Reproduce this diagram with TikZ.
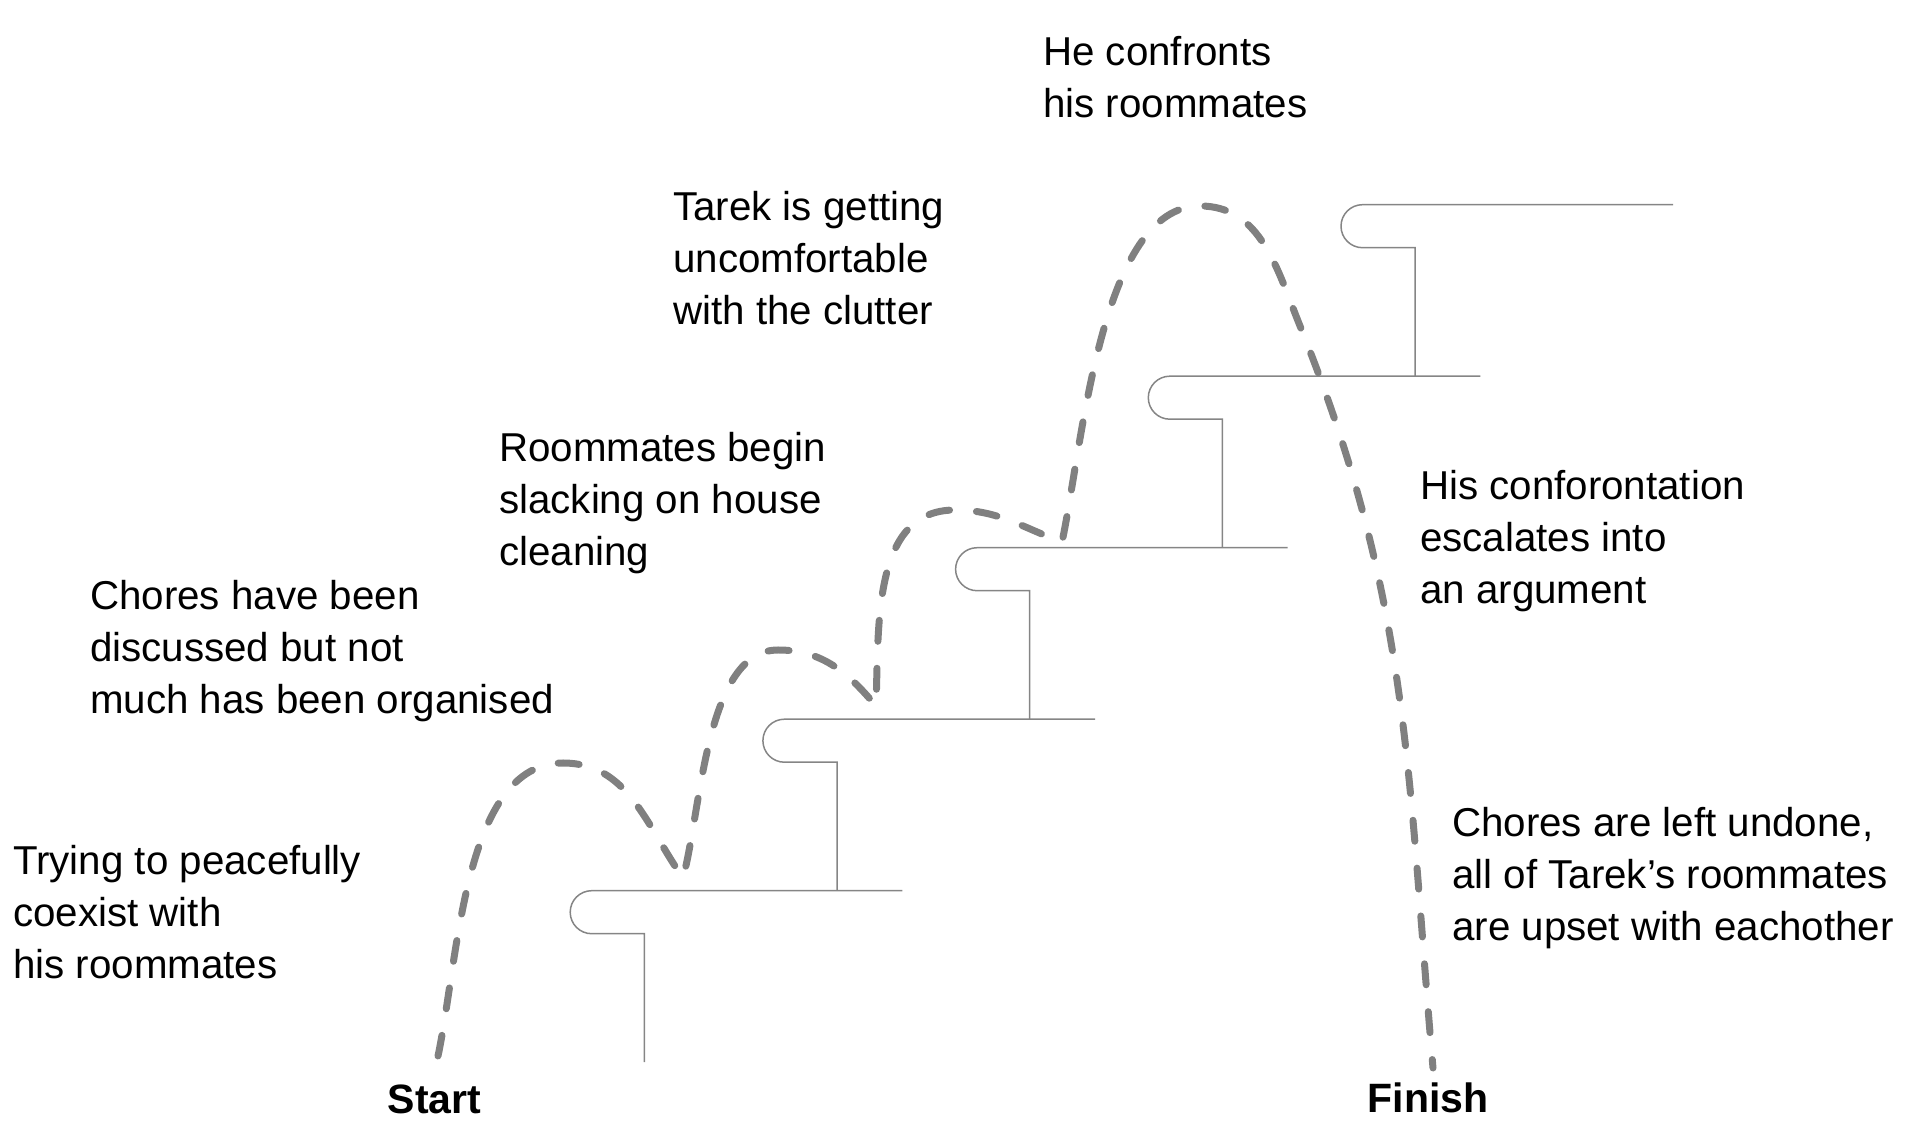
\documentclass[tikz,border=0pt]{standalone}
\usepackage{fontspec}
\setmainfont{Liberation Sans}
\definecolor{linegray}{HTML}{858585}
\definecolor{pathgray}{HTML}{808080}
\tikzset{
  storytext/.style={anchor=base west, align=left, inner sep=0pt, font=\fontsize{40.3}{52}\selectfont},
  endtext/.style={anchor=base, inner sep=0pt, font=\fontsize{41}{50}\selectfont\bfseries},
  stair/.style={draw=linegray, line width=1.5pt},
  route/.style={draw=pathgray, line width=7pt, line cap=round, dash pattern=on 21pt off 27pt},
}
\begin{document}
\begin{tikzpicture}[x=1pt,y=1pt]
  \useasboundingbox (0,0) rectangle (1906,1138);
  % the five stairs
  \foreach \i in {0,...,4} {
    \pgfmathsetmacro\sx{591.7+192.7*\i}
    \pgfmathsetmacro\sy{247.3+171.5*\i}
    \draw[stair] (\sx+310.6,\sy) -- (\sx,\sy)
      arc[start angle=90,end angle=270,radius=21.5]
      -- (\sx+52.6,\sy-43) -- (\sx+52.6,\sy-171.5);
  }
  % texts (placed at the baseline of their last line)
  \node[storytext] (trying) at (13,159) {Trying to peacefully\\coexist with\\his roommates};
  \node[storytext] (chores) at (90,424) {Chores have been\\discussed but not\\much has been organised};
  \node[storytext] (slacking) at (499,572) {Roommates begin\\slacking on house\\cleaning};
  \node[storytext] (clutter) at (673,813) {Tarek is getting\\uncomfortable\\with the clutter};
  \node[storytext] (confront) at (1043,1020) {He confronts\\his roommates};
  \node[storytext] (argument) at (1420,534) {His conforontation\\escalates into\\an argument};
  \node[storytext] (undone) at (1452,197) {Chores are left undone,\\all of Tarek’s roommates\\are upset with eachother};
  \node[endtext] (start) at (434.5,25) {Start};
  \node[endtext] (finish) at (1428,26) {Finish};
  % the route
  \coordinate (s0) at (438,82);
  \coordinate (p1) at (563,375);
  \coordinate (v1) at (683,260);
  \coordinate (p2) at (778,488);
  \coordinate (v2) at (876,432);
  \coordinate (p3) at (955,628);
  \coordinate (v3) at (1062,596);
  \coordinate (p4) at (1200,932);
  \coordinate (m4) at (1300,812);
  \coordinate (f0) at (1433,70);
  \draw[route] (s0) to[out=78,in=180,looseness=0.8] (p1)
    to[out=0,in=125] (v1)
    to[out=75,in=180,looseness=0.75] (p2)
    to[out=0,in=130] (v2)
    to[out=88,in=180] (p3)
    to[out=0,in=160] (v3)
    to[out=78,in=180,looseness=0.7] (p4)
    to[out=0,in=112] (m4)
    to[out=-68,in=95] (f0);
\end{tikzpicture}
\end{document}
